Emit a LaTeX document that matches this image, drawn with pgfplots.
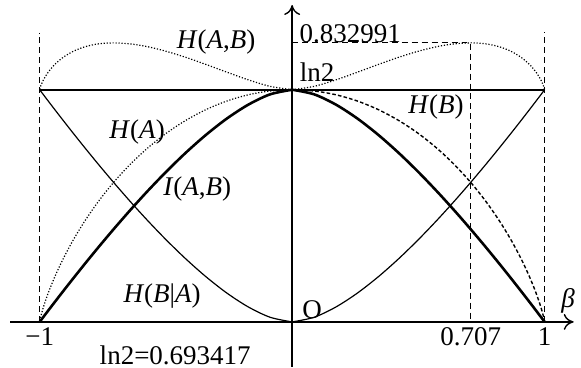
\documentclass[border=0pt]{standalone}
\usepackage{fontspec}
\setmainfont{Liberation Serif}
\usepackage{pgfplots}
\usepackage{pgfplotstable}
\pgfplotsset{compat=1.18}
\usetikzlibrary{arrows.meta}

% beta >= 0 half; the left half is its mirror image
\pgfplotstableread{
b       HA      HBA     HAB     I
0       0.69315 0       0.69315 0.69315
0.08716 0.68934 0.01382 0.70316 0.67933
0.17365 0.67799 0.04464 0.72263 0.64851
0.25882 0.65927 0.08627 0.74554 0.60688
0.34202 0.63346 0.13528 0.76874 0.55787
0.42262 0.60098 0.18912 0.79010 0.50403
0.5     0.56234 0.24577 0.80811 0.44738
0.57358 0.51818 0.30352 0.82170 0.38963
0.64279 0.46927 0.36086 0.83013 0.33229
0.70711 0.41650 0.41650 0.83300 0.27665
0.76604 0.36086 0.46927 0.83013 0.22388
0.81915 0.30352 0.51818 0.82170 0.17497
0.86603 0.24577 0.56234 0.80811 0.13081
0.90631 0.18912 0.60098 0.79010 0.09217
0.93969 0.13528 0.63346 0.76874 0.05969
0.96593 0.08627 0.65927 0.74554 0.03388
0.98481 0.04464 0.67799 0.72263 0.01516
0.99619 0.01382 0.68934 0.70316 0.00381
1       0       0.69315 0.69315 0
}\halfdata

\begin{document}
\fontsize{13.5bp}{16bp}\selectfont
\begin{tikzpicture}
\begin{axis}[
  scale only axis, width=281.8bp, height=180.9bp,
  xmin=-1.117, xmax=1.115, ymin=-0.134, ymax=0.946,
  axis lines=middle,
  axis line style={line width=0.7pt, -{To[length=5pt,width=8pt]}},
  xtick={-1,0.707,1}, xticklabels={−1,0.707,1},
  ytick=\empty, major tick length=0,
  xticklabel style={inner sep=1pt, yshift=-1.5bp},
  /pgf/number format/assume math mode=true,
  clip=false,
]
% guide lines
\addplot[densely dashed, line width=0.5pt] coordinates {(-1,0) (-1,0.863)};
\addplot[densely dashed, line width=0.5pt] coordinates {(1,0) (1,0.866)};
\addplot[densely dashed, line width=0.5pt] coordinates {(0,0.833) (0.707,0.833) (0.707,0)};

% H(B)
\addplot[line width=1pt] coordinates {(-1,0.69315) (1,0.69315)};

% H(A,B)
\addplot[smooth, line width=0.6pt, dash pattern=on 0.6pt off 0.9pt] table[x=b, y=HAB] {\halfdata};
\addplot[smooth, line width=0.6pt, dash pattern=on 0.6pt off 0.9pt] table[x expr=-\thisrow{b}, y=HAB] {\halfdata};

% H(A)
\addplot[smooth, line width=0.7pt, dash pattern=on 1.8pt off 1.1pt] table[x=b, y=HA] {\halfdata};
\addplot[smooth, line width=0.6pt, dash pattern=on 0.6pt off 0.9pt] table[x expr=-\thisrow{b}, y=HA] {\halfdata};

% H(B|A)
\addplot[smooth, line width=0.6pt] table[x=b, y=HBA] {\halfdata};
\addplot[smooth, line width=0.6pt] table[x expr=-\thisrow{b}, y=HBA] {\halfdata};

% I(A,B)
\addplot[smooth, line width=1.3pt] table[x=b, y=I] {\halfdata};
\addplot[smooth, line width=1.3pt] table[x expr=-\thisrow{b}, y=I] {\halfdata};

% labels
\node[inner sep=0] at (axis cs:-0.301,0.836) {\textit{H}(\textit{A},\textit{B})};
\node[inner sep=0] at (axis cs:0.570,0.642) {\textit{H}(\textit{B})};
\node[inner sep=0] at (axis cs:-0.614,0.567) {\textit{H}(\textit{A})};
\node[inner sep=0] at (axis cs:-0.376,0.397) {\textit{I}(\textit{A},\textit{B})};
\node[inner sep=0] at (axis cs:-0.515,0.078) {\textit{H}(\textit{B}|\textit{A})};
\node[inner sep=0] at (axis cs:0.230,0.860) {0.832991};
\node[inner sep=0] at (axis cs:0.099,0.746) {ln2};
\node[inner sep=0] at (axis cs:-0.463,-0.100) {ln2=0.693417};
\node[inner sep=0] at (axis cs:0.079,0.036) {O};
\node[inner sep=0] at (axis cs:1.093,0.062) {\textit{β}};

\path (axis cs:-1.157,-0.134) rectangle (axis cs:1.144,0.961);
\end{axis}
\end{tikzpicture}
\end{document}
